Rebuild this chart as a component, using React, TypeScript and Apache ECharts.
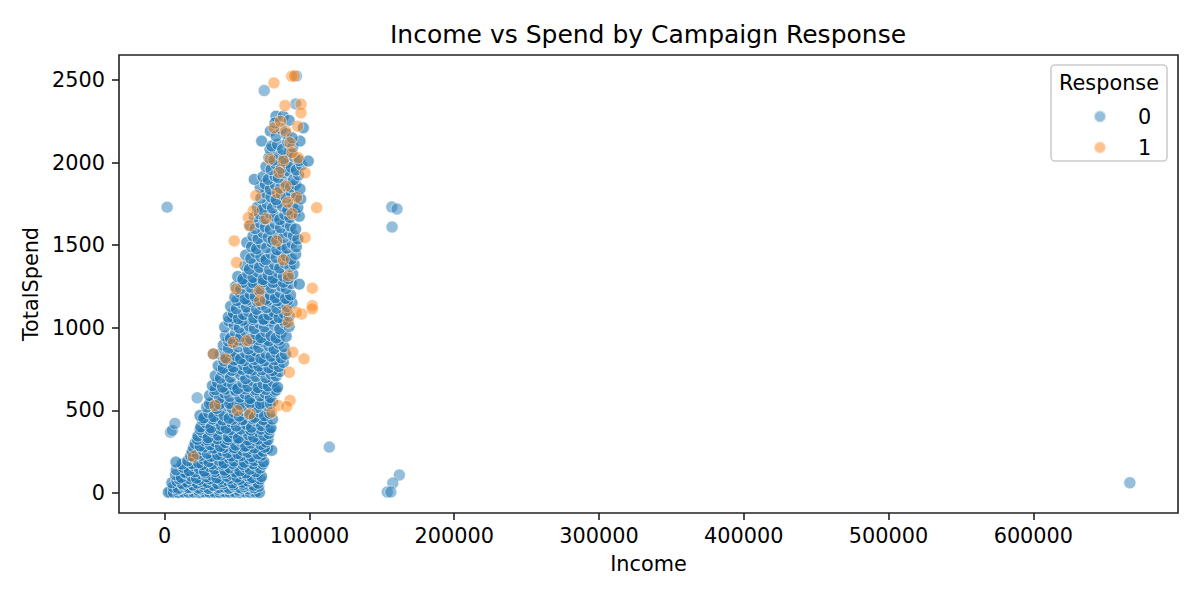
import React, { useRef, useEffect } from 'react';
import * as echarts from 'echarts';

// [Income, TotalSpend] for customers with Response = 0
const noLowSpend: [number, number][] = [
  [4000, 8], [7500, 12], [11000, 6], [14500, 15], [18000, 9], [21500, 11], [25000, 7], [28500, 14], [32000, 10],
  [35500, 8], [39000, 13], [42500, 9], [46000, 16], [49500, 11], [53000, 19], [56500, 14], [60000, 22], [63500, 12],
  [2500, 4], [6000, 5], [9500, 3], [13000, 6], [16500, 4], [20000, 5], [24000, 3], [27500, 6], [31000, 4], [34500, 5],
  [38000, 3], [41500, 6], [45000, 4], [48500, 5], [52000, 3], [55500, 6], [59000, 4], [62500, 5], [65500, 3],
  [9000, 20], [16000, 25], [23000, 18], [30000, 28], [37000, 22], [44000, 26], [51000, 17], [58000, 24],
  [11000, 30], [18000, 32], [25000, 24], [32000, 36], [39000, 30], [46000, 34], [53000, 28], [60000, 35],
  [6000, 35], [9500, 28], [13000, 40], [16500, 33], [20000, 42], [23500, 30], [27000, 38], [30500, 27], [34000, 44],
  [37500, 32], [41000, 36], [44500, 29], [48000, 41], [51500, 34], [55000, 39], [58500, 45], [62000, 31], [65000, 40],
  [12500, 50], [19500, 48], [26500, 53], [33500, 46], [40500, 55], [47500, 49], [54500, 52], [61500, 47],
  [5000, 62], [8500, 72], [12000, 58], [15500, 66], [19000, 75], [22500, 60], [26000, 70], [29500, 63], [33000, 78],
  [36500, 57], [40000, 68], [43500, 74], [47000, 61], [50500, 77], [54000, 65], [57500, 72], [61000, 80], [64500, 59],
  [10000, 85], [17000, 88], [24000, 82], [31000, 86], [38000, 84], [45000, 89], [52000, 83], [59000, 87], [66000, 85],
  [7500, 110], [11500, 95], [15000, 118], [18500, 102], [22000, 90], [25500, 115], [29000, 98], [32500, 108], [36000, 92],
  [39500, 120], [43000, 101], [46500, 112], [50000, 96], [53500, 117], [57000, 105], [60500, 93], [64000, 114], [67000, 100],
  [14000, 125], [21000, 128], [28000, 122], [35000, 130], [42000, 124], [49000, 127], [56000, 121], [63000, 129],
  [8000, 140], [13000, 155], [17000, 135], [20500, 165], [24000, 148], [27500, 132], [31000, 160], [34500, 145], [38000, 170],
  [41500, 138], [45000, 152], [48500, 166], [52000, 134], [55500, 158], [59000, 144], [62500, 168], [66000, 150],
  [12000, 175], [19000, 178], [26000, 172], [33000, 176], [40000, 174], [47000, 179], [54000, 173], [61000, 177], [68000, 175],
  [7800, 187], [16000, 195], [20000, 215], [23500, 183], [27000, 205], [30500, 190], [34000, 220], [37500, 198], [41000, 182],
  [44500, 212], [48000, 193], [51500, 218], [55000, 186], [58500, 208], [62000, 196], [65500, 214], [68500, 189],
  [18000, 225], [25000, 228], [32000, 222], [39000, 230], [46000, 224], [53000, 227], [60000, 221], [67000, 229],
  [19000, 250], [22500, 235], [26000, 262], [29500, 240], [33000, 268], [36500, 232], [40000, 255], [43500, 244], [47000, 270],
  [50500, 238], [54000, 258], [57500, 246], [61000, 265], [64500, 236], [68000, 252], [71000, 270], [74000, 258],
  [20000, 275], [27000, 278], [34000, 272], [41000, 276], [48000, 274], [55000, 279], [62000, 273], [69000, 277],
  [21000, 300], [24500, 285], [28000, 315], [31500, 292], [35000, 310], [38500, 282], [42000, 305], [45500, 318],
  [49000, 290], [52500, 312], [56000, 284], [59500, 302], [63000, 316], [66500, 294], [70000, 308],
  [22500, 325], [29500, 322], [36500, 328], [43500, 324], [50500, 327], [57500, 321], [64500, 326], [71500, 323],
  [23000, 345], [26500, 365], [30000, 335], [33500, 372], [37000, 350], [40500, 380], [44000, 340], [47500, 362],
  [51000, 333], [54500, 376], [58000, 352], [61500, 338], [65000, 370], [68500, 348], [72000, 360],
  [24500, 385], [31500, 382], [38500, 388], [45500, 384], [52500, 387], [59500, 381], [66500, 386], [72500, 383],
  [25000, 400], [28500, 425], [32000, 395], [35500, 438], [39000, 410], [42500, 392], [46000, 430], [49500, 405],
  [53000, 440], [56500, 415], [60000, 398], [63500, 435], [67000, 408], [70500, 428], [73500, 395],
  [26000, 445], [33000, 448], [40000, 442], [47000, 446], [54000, 444], [61000, 449], [68000, 443], [74500, 447],
  [24400, 469], [27000, 455], [30500, 485], [34000, 462], [37500, 495], [41000, 470], [44500, 452], [48000, 488],
  [51500, 465], [55000, 498], [58500, 475], [62000, 458], [65500, 490], [69000, 468], [72500, 482],
];

const noMidSpend: [number, number][] = [
  [29000, 520], [32500, 545], [36000, 512], [39500, 555], [43000, 530], [46500, 515], [50000, 550], [53500, 525],
  [57000, 558], [60500, 535], [64000, 518], [67500, 548], [71000, 528], [74500, 552],
  [31000, 540], [38000, 538], [45000, 542], [52000, 536], [59000, 544], [66000, 539], [73000, 541],
  [31000, 590], [34500, 610], [38000, 575], [41500, 605], [45000, 585], [48500, 618], [52000, 580], [55500, 600],
  [59000, 572], [62500, 612], [66000, 588], [69500, 604], [73000, 578], [76000, 615],
  [35000, 625], [42000, 628], [49000, 622], [56000, 630], [63000, 624], [70000, 627], [77000, 623],
  [33000, 650], [36500, 670], [40000, 640], [43500, 675], [47000, 655], [50500, 632], [54000, 668], [57500, 645],
  [61000, 678], [64500, 638], [68000, 662], [71500, 648], [75000, 672], [78000, 640],
  [35000, 710], [38500, 695], [42000, 730], [45500, 700], [49000, 738], [52500, 715], [56000, 692], [59500, 725],
  [63000, 705], [66500, 735], [70000, 698], [73500, 720], [77000, 708], [79500, 735],
  [39500, 745], [46500, 742], [53500, 748], [60500, 744], [67500, 746], [74500, 741],
  [37000, 770], [40500, 755], [44000, 790], [47500, 762], [51000, 798], [54500, 775], [58000, 752], [61500, 785],
  [65000, 768], [68500, 795], [72000, 758], [75500, 780], [79000, 765], [82000, 790],
  [41000, 800], [48000, 805], [55000, 802], [62000, 808], [69000, 801], [76000, 806],
  [38500, 840], [42000, 820], [45500, 855], [49000, 832], [52500, 812], [56000, 848], [59500, 825], [63000, 858],
  [66500, 815], [70000, 845], [73500, 828], [77000, 852], [80500, 818], [83500, 840],
  [33600, 842], [40500, 895], [44000, 875], [47500, 910], [51000, 885], [54500, 918], [58000, 872], [61500, 900],
  [65000, 880], [68500, 915], [72000, 890], [75500, 872], [79000, 905], [82500, 885],
  [44000, 920], [51000, 925], [58000, 922], [65000, 928], [72000, 921], [79000, 926],
  [42000, 950], [45500, 935], [49000, 970], [52500, 945], [56000, 978], [59500, 932], [63000, 960], [66500, 940],
  [70000, 975], [73500, 952], [77000, 938], [80500, 968], [84000, 948],
  [41500, 1005], [44500, 1040], [48000, 1020], [51500, 1000], [55000, 1035], [58500, 1010], [62000, 995], [65500, 1028],
  [69000, 1005], [72500, 1040], [76000, 1015], [79500, 992], [83000, 1030], [86000, 1008],
  [47000, 1060], [54000, 1045], [61000, 1050], [68000, 1048], [75000, 1055], [82000, 1046],
  [44000, 1065], [47500, 1090], [51000, 1055], [54500, 1080], [58000, 1098], [61500, 1060], [65000, 1085], [68500, 1052],
  [72000, 1078], [75500, 1095], [79000, 1062], [82500, 1088], [86000, 1070],
  [45600, 1130], [49500, 1115], [53000, 1150], [56500, 1125], [60000, 1158], [63500, 1112], [67000, 1140], [70500, 1122],
  [74000, 1155], [77500, 1118], [81000, 1145], [84500, 1128], [88000, 1150],
  [50000, 1165], [57000, 1168], [64000, 1162], [71000, 1166], [78000, 1164], [85000, 1167],
  [48500, 1185], [52000, 1215], [55500, 1175], [59000, 1205], [62500, 1190], [66000, 1218], [69500, 1172], [73000, 1200],
  [76500, 1182], [80000, 1212], [83500, 1178], [87000, 1198],
  [49000, 1250], [52500, 1235], [56000, 1270], [59500, 1245], [63000, 1278], [66500, 1232], [70000, 1262], [73500, 1240],
  [77000, 1275], [80500, 1252], [84000, 1238], [87500, 1268], [93000, 1264],
  [54000, 1275], [61000, 1272], [68000, 1278], [75000, 1274], [82000, 1276],
  [50500, 1310], [54000, 1295], [57500, 1330], [61000, 1305], [64500, 1338], [68000, 1292], [71500, 1320], [75000, 1300],
  [78500, 1335], [82000, 1312], [85500, 1298], [88500, 1325],
  [55500, 1375], [58500, 1355], [62000, 1390], [65500, 1365], [69000, 1398], [72500, 1352], [76000, 1380], [79500, 1362],
  [83000, 1392], [86500, 1370], [89500, 1385],
  [56000, 1440], [59500, 1420], [63000, 1455], [66500, 1430], [70000, 1412], [73500, 1448], [77000, 1425], [80500, 1458],
  [84000, 1435], [87500, 1415], [90500, 1445],
];

const noHighSpend: [number, number][] = [
  [56700, 1516], [60000, 1490], [63500, 1478], [67000, 1510], [70500, 1485], [74000, 1518], [77500, 1472], [81000, 1500],
  [84500, 1482], [88000, 1512], [91000, 1490],
  [61000, 1555], [64500, 1540], [68000, 1575], [71500, 1548], [75000, 1532], [78500, 1568], [82000, 1545], [85500, 1578],
  [89000, 1558], [92000, 1538],
  [59000, 1620], [62500, 1600], [66000, 1635], [69500, 1610], [73000, 1595], [76500, 1630], [80000, 1605], [83500, 1638],
  [87000, 1615], [90500, 1598],
  [62000, 1670], [65500, 1690], [69000, 1660], [72500, 1695], [76000, 1675], [79500, 1655], [83000, 1685], [86500, 1668],
  [90000, 1698], [93000, 1675],
  [64000, 1730], [67500, 1715], [71000, 1750], [74500, 1725], [78000, 1758], [81500, 1735], [85000, 1712], [88500, 1745],
  [92000, 1728],
  [66500, 1785], [70000, 1815], [73500, 1792], [77000, 1775], [80500, 1810], [84000, 1788], [87500, 1818], [91000, 1798],
  [94000, 1780],
  [66000, 1850], [69500, 1870], [73000, 1838], [76500, 1865], [80000, 1845], [83500, 1878], [87000, 1852], [90500, 1868],
  [93500, 1840],
  [61900, 1898], [68000, 1915], [71500, 1898], [76200, 1918], [78500, 1908], [82000, 1938], [85400, 1949], [89000, 1895],
  [92500, 1925],
  [70000, 1975], [73500, 1958], [77000, 1990], [80500, 1965], [84000, 1998], [87500, 1972], [91000, 1955], [94500, 1985],
  [72000, 2030], [75500, 2015], [79000, 2050], [82500, 2025], [86000, 2058], [89500, 2035], [93000, 2012], [99200, 2009],
  [67000, 2130], [72800, 2080], [74000, 2100], [78000, 2110], [81500, 2080], [85000, 2125], [88500, 2095], [93500, 2130],
  [73000, 2190], [77000, 2160], [80500, 2205], [84000, 2175], [88000, 2150], [95800, 2210],
  [76900, 2281], [76200, 2240], [82000, 2280], [86000, 2255],
];

// isolated Response = 0 customers, away from the main band
const noOutliers: [number, number][] = [
  [1730, 1730], [666666, 62], [156900, 1731], [160500, 1719], [157100, 1610], [113750, 278],
  [162100, 109], [157600, 60], [153800, 6], [156200, 6],
  [4100, 368], [5300, 379], [7100, 421], [22500, 576], [90500, 2355], [68800, 2436], [91000, 2524],
];

// Response = 1
const yesPoints: [number, number][] = [
  [75500, 2482], [87800, 2522], [89500, 2524], [83100, 2345], [94200, 2353], [94200, 2301], [91900, 2220], [75500, 2210],
  [83600, 2190], [86600, 2120], [92300, 2029], [82000, 2009], [72800, 2021], [97000, 1938], [83800, 1858], [77800, 1818],
  [91200, 1788], [105000, 1727], [61200, 1707], [57800, 1667], [58500, 1617], [77400, 1526], [97000, 1546], [48100, 1526],
  [49700, 1395], [85400, 1315], [102000, 1240], [49300, 1234], [102000, 1133], [102000, 1115], [94700, 1083], [91200, 1093],
  [85400, 1033], [47400, 912], [56700, 922], [33600, 842], [42400, 812], [88500, 852], [96300, 812], [86100, 731],
  [86600, 560], [78500, 530], [84300, 524], [74000, 489], [59000, 479], [50200, 499], [19800, 221], [34800, 530],
  [80000, 2250], [88000, 2060], [79000, 1940], [85000, 1760], [88000, 1690], [70000, 1660], [65200, 1224], [65600, 1164],
  [82000, 1410], [84700, 1104], [63000, 1800],
];

const xTicks = [0, 100000, 200000, 300000, 400000, 500000, 600000];
const yTicks = [0, 500, 1000, 1500, 2000, 2500];
const xRange = [-31517, 699913];
const yRange = [-121, 2651];

const FONT = 'DejaVu Sans';
const INK = '#222222';

const App: React.FC = () => {
  const chartRef = useRef<HTMLDivElement>(null);

  useEffect(() => {
    document.body.style.margin = '0';
    if (!chartRef.current) return;
    const chart = echarts.init(chartRef.current, undefined, { renderer: 'svg' });

    const axisCommon = {
      type: 'value' as const,
      axisLine: { show: false, onZero: false },
      axisTick: { show: true, length: 7, lineStyle: { color: INK, width: 1.6 } },
      splitLine: { show: false },
      nameTextStyle: { fontFamily: FONT, fontSize: 20.8, color: '#000' },
    };

    // each hand-placed point in the dense band stands for a stack of customers,
    // so the band is drawn a little more opaque than single points
    const pointStyle = (rgb: string, alpha: number) => ({
      color: `rgba(${rgb},${alpha})`,
      borderColor: `rgba(255,255,255,${alpha})`,
      borderWidth: 1,
    });

    const option: echarts.EChartsOption = {
      animation: false,
      backgroundColor: '#ffffff',
      grid: {
        left: 119, right: 22, top: 55, bottom: 87,
        show: true, borderColor: INK, borderWidth: 1.6, backgroundColor: 'transparent',
        outerBoundsMode: 'none',
      } as any,
      xAxis: {
        ...axisCommon,
        min: xRange[0],
        max: xRange[1],
        name: 'Income',
        nameLocation: 'middle',
        nameGap: 40,
        axisTick: { ...axisCommon.axisTick, customValues: xTicks } as any,
        axisLabel: {
          customValues: xTicks,
          formatter: (v: number) => String(v),
          fontFamily: FONT,
          fontSize: 20.8,
          color: '#000',
          margin: 12,
        } as any,
      },
      yAxis: {
        ...axisCommon,
        min: yRange[0],
        max: yRange[1],
        name: 'TotalSpend',
        nameLocation: 'middle',
        nameGap: 72,
        axisTick: { ...axisCommon.axisTick, customValues: yTicks } as any,
        axisLabel: {
          customValues: yTicks,
          formatter: (v: number) => String(v),
          fontFamily: FONT,
          fontSize: 20.8,
          color: '#000',
          margin: 14,
        } as any,
      },
      legend: {
        data: ['0', '1'],
        orient: 'vertical',
        left: 1088,
        top: 101,
        itemWidth: 12,
        itemHeight: 12,
        itemGap: 10,
        icon: 'circle',
        z: 10,
        textStyle: { fontFamily: FONT, fontSize: 20.8, color: '#000', padding: [0, 0, 0, 27] },
      },
      graphic: [
        {
          type: 'rect',
          z: 5,
          shape: { x: 1051, y: 65, width: 116, height: 96, r: 4 },
          style: { fill: 'rgba(255,255,255,0.8)', stroke: '#cccccc', lineWidth: 1.6 },
        },
        {
          type: 'text',
          z: 6,
          x: 1109,
          y: 83,
          style: {
            text: 'Response',
            fontFamily: FONT,
            fontSize: 20.8,
            fill: '#000',
            align: 'center',
            verticalAlign: 'middle',
          },
        },
        {
          type: 'text',
          x: 648,
          y: 34,
          style: {
            text: 'Income vs Spend by Campaign Response',
            fontFamily: FONT,
            fontSize: 25,
            fill: '#000',
            align: 'center',
            verticalAlign: 'middle',
          },
        },
      ],
      series: [
        {
          name: '0',
          type: 'scatter',
          symbolSize: 12,
          itemStyle: pointStyle('31,119,180', 0.6),
          emphasis: { disabled: true },
          data: noOutliers,
        },
        {
          name: '0',
          type: 'scatter',
          symbolSize: 12,
          itemStyle: pointStyle('31,119,180', 0.78),
          emphasis: { disabled: true },
          data: [...noLowSpend, ...noMidSpend, ...noHighSpend],
        },
        {
          name: '1',
          type: 'scatter',
          symbolSize: 12,
          itemStyle: pointStyle('255,127,14', 0.6),
          emphasis: { disabled: true },
          data: yesPoints,
        },
      ],
    };

    chart.setOption(option);
    return () => {
      chart.dispose();
    };
  }, []);

  return <div ref={chartRef} style={{ width: 1200, height: 600 }} />;
};

export default App;
